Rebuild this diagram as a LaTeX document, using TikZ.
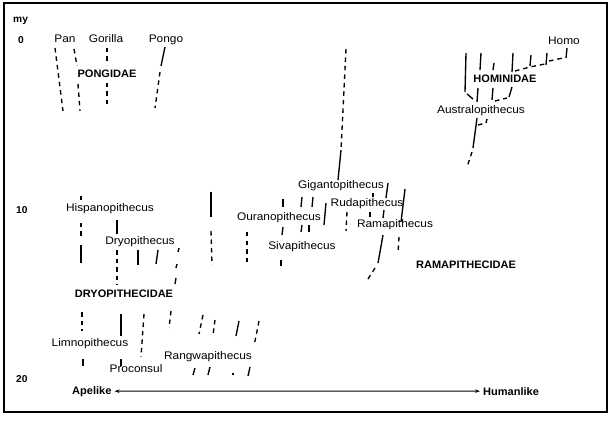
\documentclass[tikz,border=0pt]{standalone}
\usepackage{fontspec}
\setmainfont{Liberation Sans}
\newfontfamily\labf[FakeStretch=1.08]{Liberation Sans}
\newfontfamily\labbf[FakeStretch=1.02]{Liberation Sans}
\usetikzlibrary{arrows.meta}
\tikzset{
  ln/.style={line width=1.35pt},
  dl/.style={line width=1.35pt, dash pattern=on 4.5pt off 4pt},
  lab/.style={inner sep=0pt, anchor=base, font=\labf\fontsize{11}{13}\selectfont},
  grp/.style={inner sep=0pt, anchor=base, font=\labbf\bfseries\fontsize{10.8}{12}\selectfont},
  num/.style={inner sep=0pt, anchor=base west, font=\labbf\bfseries\fontsize{10}{12}\selectfont},
  axis/.style={inner sep=0pt, font=\labbf\bfseries\fontsize{10.8}{12}\selectfont},
  arr/.style={line width=1pt, {Stealth[length=5pt,width=3.5pt]}-{Stealth[length=5pt,width=3.5pt]}, shorten <=3pt, shorten >=3pt}
}
\begin{document}
\begin{tikzpicture}[x=1pt,y=-1pt]
\useasboundingbox (0,0) rectangle (613,422);
\draw[line width=1.4pt] (4,3) rectangle (607,412);

% time scale
\node[num] (my) at (13,23) {my};
\node[num] (t0) at (18,44) {0};
\node[num] (t10) at (16,214) {10};
\node[num] (t20) at (16,382) {20};

% Pongidae
\node[lab] (pan) at (65,43) {Pan};
\node[lab] (gor) at (106,43) {Gorilla};
\node[lab] (pon) at (166,43) {Pongo};
\node[grp] (pongidae) at (107,78) {PONGIDAE};
\draw[dl] (55,48) -- (63,111);
\draw[dl] (74,49) -- (77,66);
\draw[dl] (78,84) -- (80,111);
\draw[dl] (107,48) -- (107,65);
\draw[dl] (107,83) -- (107,108);
\draw[ln] (165,47) -- (161,66);
\draw[dl] (160,72) -- (155,108);

% Gigantopithecus stem
\draw[dl] (346,49) -- (341,150);
\draw[ln] (341,150) -- (338,180);

% Hominidae
\node[lab] (homo) at (564,45) {Homo};
\node[grp] (hominidae) at (505,83) {HOMINIDAE};
\node[lab] (aus) at (481,114) {Australopithecus};
\draw[ln] (466,53) -- (465,92);
\draw[ln] (467,94) -- (473,99);
\draw[ln] (481,53) -- (480,70);
\draw[ln] (478,88) -- (477,102);
\draw[ln] (494,63) -- (493,70);
\draw[ln] (493,88) -- (492,100);
\draw[dl] (495,101) -- (507,98);
\draw[ln] (509,97) -- (512,87);
\draw[ln] (513,53) -- (512,72);
\draw[dl] (515,71) -- (530,67) -- (545,64);
\draw[dl] (549,61) -- (563,58);
\draw[ln] (531,55) -- (530,66);
\draw[ln] (547,53) -- (546,65);
\draw[ln] (567,48) -- (566,58);
\draw[ln] (477,118) -- (473,148);
\draw[dl] (472,152) -- (467,167);
\draw[dl] (478,125) -- (486,123);
\draw[ln] (486,123) -- (487,119);

% Ramapithecidae
\node[lab] (gig) at (341,189) {Gigantopithecus};
\node[lab] (rud) at (367,207) {Rudapithecus};
\node[lab] (our) at (279,221) {Ouranopithecus};
\node[lab] (ram) at (395,228) {Ramapithecus};
\node[lab] (siv) at (302,250) {Sivapithecus};
\node[grp] (ramidae) at (466,268) {RAMAPITHECIDAE};
\draw[ln] (283,199) -- (283,207);
\draw[ln] (302,197) -- (301,207);
\draw[ln] (313,197) -- (312,207);
\draw[ln] (326,203) -- (324,225);
\draw[ln] (283,227) -- (282,235);
\draw[ln] (302,225) -- (301,232);
\draw[ln] (309,225) -- (309,232);
\draw[ln] (281,260) -- (281,266);
\draw[ln] (373,193) -- (373,197);
\draw[ln] (388,183) -- (386,198);
\draw[ln] (405,189) -- (401,222);
\draw[dl] (347,212) -- (346,231);
\draw[ln] (370,212) -- (370,217);
\draw[ln] (384,210) -- (383,218);
\draw[ln] (383,235) -- (378,263);
\draw[dl] (375,268) -- (368,279);
\draw[dl] (399,237) -- (398,253);
\draw[ln] (211,192) -- (211,217);
\draw[dl] (211,231) -- (212,265);
\draw[dl] (247,232) -- (247,263);

% Dryopithecidae
\node[lab] (his) at (110,212) {Hispanopithecus};
\node[lab] (dry) at (140,244) {Dryopithecus};
\node[grp] (dryidae) at (124,297) {DRYOPITHECIDAE};
\draw[ln] (81,196) -- (81,200);
\draw[dl] (81,223) -- (81,237);
\draw[ln] (81,245) -- (81,263);
\draw[ln] (117,220) -- (117,234);
\draw[dl] (117,250) -- (117,285);
\draw[ln] (138,250) -- (138,265);
\draw[ln] (158,250) -- (156,264);
\draw[ln] (179,248) -- (178,252);
\draw[ln] (177,264) -- (176,268);
\draw[ln] (176,278) -- (175,284);

% Limnopithecus group
\node[lab] (lim) at (90,346) {Limnopithecus};
\node[lab] (ran) at (208,359) {Rangwapithecus};
\node[lab] (pro) at (136,372) {Proconsul};
\draw[dl] (82,312) -- (82,331);
\draw[ln] (83,359) -- (83,366);
\draw[ln] (121,314) -- (121,336);
\draw[ln] (121,359) -- (121,366);
\draw[dl] (144,314) -- (141,357);
\draw[dl] (171,311) -- (169,328);
\draw[dl] (203,315) -- (199,334);
\draw[dl] (215,320) -- (213,335);
\draw[ln] (239,321) -- (236,336);
\draw[dl] (259,321) -- (254,346);
\draw[ln] (195,368) -- (193,375);
\draw[ln] (210,367) -- (208,375);
\draw[ln] (233,373) -- (233,375);
\draw[ln] (250,367) -- (248,376);

% axis
\node[axis, anchor=base west] (ape) at (72,394) {Apelike};
\node[axis, anchor=base west] (hum) at (483,395) {Humanlike};
\draw[arr] (ape.east) -- (hum.west);
\end{tikzpicture}
\end{document}
